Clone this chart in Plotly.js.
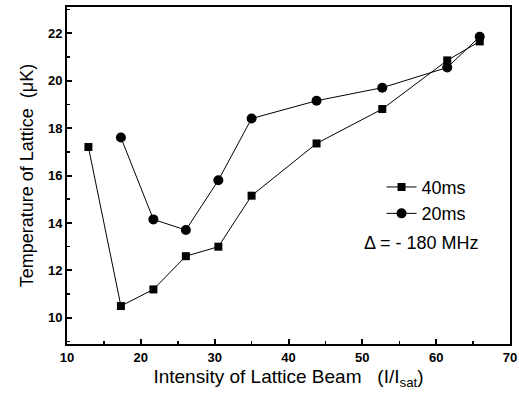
<!DOCTYPE html>
<html>
<head>
<meta charset="utf-8">
<script src="https://cdn.plot.ly/plotly-3.0.1.min.js"></script>
<style>html,body{margin:0;padding:0;background:#fff;}#chart{width:519px;height:402px;}</style>
</head>
<body>
<div id="chart"></div>
<script>
var intensity40 = [12.9, 17.3, 21.7, 26.1, 30.5, 35.0, 43.8, 52.7, 61.5, 65.9];
var temp40 = [17.2, 10.5, 11.2, 12.6, 13.0, 15.15, 17.35, 18.8, 20.85, 21.65];
var intensity20 = [17.3, 21.7, 26.1, 30.5, 35.0, 43.8, 52.7, 61.5, 65.9];
var temp20 = [17.6, 14.15, 13.7, 15.8, 18.4, 19.15, 19.7, 20.55, 21.85];
var seriesNames = ["40ms", "20ms"];

var font = "Liberation Sans, Arial, sans-serif";
var traces = [
  {x: intensity40, y: temp40, name: seriesNames[0], type: "scatter", mode: "lines+markers",
   line: {color: "#000", width: 1}, marker: {symbol: "square", size: 8, color: "#000"}},
  {x: intensity20, y: temp20, name: seriesNames[1], type: "scatter", mode: "lines+markers",
   line: {color: "#000", width: 1}, marker: {symbol: "circle", size: 10, color: "#000"}}
];
var layout = {
  width: 519, height: 402,
  margin: {l: 67, r: 9, t: 7, b: 58},
  paper_bgcolor: "#fff", plot_bgcolor: "#fff",
  showlegend: true,
  legend: {x: 0.71, y: 0.52, xanchor: "left", yanchor: "top", bgcolor: "rgba(0,0,0,0)",
           font: {family: font, size: 18, color: "#000"}, itemwidth: 30, tracegroupgap: 0},
  xaxis: {range: [10, 70], dtick: 10, tick0: 10, ticks: "inside", ticklen: 5, tickwidth: 2,
          tickcolor: "#000", showline: true, linewidth: 2, linecolor: "#000", mirror: true,
          showgrid: false, zeroline: false,
          minor: {dtick: 5, ticks: "inside", ticklen: 3, tickwidth: 1.5, tickcolor: "#000", showgrid: false},
          tickfont: {family: font, size: 13, color: "#000", weight: "bold"},
          title: {text: "Intensity of Lattice Beam   (I/I<sub>sat</sub>)", font: {family: font, size: 19, color: "#000"}, standoff: 6}},
  yaxis: {range: [8.9, 23.1], dtick: 2, tick0: 10, ticks: "inside", ticklen: 5, tickwidth: 2,
          tickcolor: "#000", showline: true, linewidth: 2, linecolor: "#000", mirror: true,
          showgrid: false, zeroline: false,
          minor: {dtick: 1, ticks: "inside", ticklen: 3, tickwidth: 1.5, tickcolor: "#000", showgrid: false},
          tickfont: {family: font, size: 13, color: "#000", weight: "bold"},
          title: {text: "Temperature of Lattice  (\u03bcK)", font: {family: font, size: 18, color: "#000"}, standoff: 10}},
  annotations: [
    {text: "\u0394 = - 180 MHz", xref: "paper", yref: "paper", x: 0.665, y: 0.3, xanchor: "left", yanchor: "middle",
     showarrow: false, font: {family: font, size: 18, color: "#000"}}
  ]
};
Plotly.newPlot("chart", traces, layout, {displayModeBar: false, staticPlot: true});
</script>
</body>
</html>
